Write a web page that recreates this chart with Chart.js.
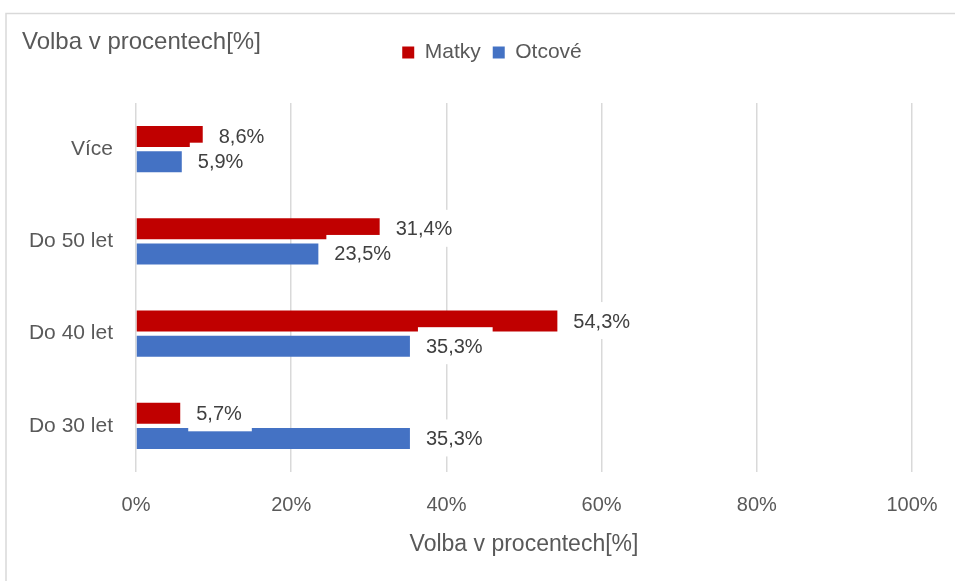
<!DOCTYPE html>
<html>
<head>
<meta charset="utf-8">
<script src="https://cdn.jsdelivr.net/npm/chart.js@4.4.1/dist/chart.umd.min.js"></script>
<style>
  html, body { margin: 0; padding: 0; background: #ffffff; }
  #wrap { position: relative; width: 955px; height: 581px; }
</style>
</head>
<body>
<div id="wrap"><canvas id="c" width="955" height="581"></canvas></div>
<script>
const categories = ['Více', 'Do 50 let', 'Do 40 let', 'Do 30 let'];
const matky = [8.6, 31.4, 54.3, 5.7];
const otcove = [5.9, 23.5, 35.3, 35.3];
const seriesNames = ['Matky', 'Otcové'];
const xTicks = [0, 20, 40, 60, 80, 100];
const chartTitle = 'Volba v procentech[%]';
const axisTitle = 'Volba v procentech[%]';

const FONT = "'Liberation Sans', Arial, sans-serif";
const TXT = '#595959';

const fmt = v => v.toFixed(1).replace('.', ',') + '%';

const frameAndTitle = {
  id: 'frameAndTitle',
  beforeDraw(chart) {
    const ctx = chart.ctx;
    ctx.save();
    ctx.fillStyle = '#ffffff';
    ctx.fillRect(0, 0, chart.width, chart.height);
    ctx.strokeStyle = '#d9d9d9';
    ctx.lineWidth = 1.5;
    ctx.strokeRect(6, 13.5, chart.width + 10, chart.height + 10);
    ctx.restore();
  },
  afterDraw(chart) {
    const ctx = chart.ctx;
    ctx.save();
    ctx.font = '24px ' + FONT;
    ctx.fillStyle = TXT;
    ctx.textAlign = 'left';
    ctx.textBaseline = 'middle';
    ctx.fillText(chartTitle, 22, 42);
    ctx.restore();
  }
};

const legendTweak = {
  id: 'legendTweak',
  beforeUpdate(chart) {
    const lg = chart.legend;
    if (lg && !lg._spaced) {
      const orig = lg.fit;
      lg.fit = function () { orig.call(this); this.height += 30; };
      lg._spaced = true;
    }
  },
  afterLayout(chart) {
    const lg = chart.legend;
    if (lg) { lg.left += 26; lg.right += 26; }
  }
};

const barLabels = {
  id: 'barLabels',
  afterDatasetsDraw(chart) {
    const ctx = chart.ctx;
    ctx.save();
    ctx.font = '20px ' + FONT;
    ctx.textBaseline = 'middle';
    ctx.textAlign = 'left';
    const items = [];
    chart.data.datasets.forEach((ds, di) => {
      const meta = chart.getDatasetMeta(di);
      meta.data.forEach((bar, i) => {
        const txt = fmt(ds.data[i]);
        items.push({ txt, x: bar.x, y: bar.y, w: ctx.measureText(txt).width });
      });
    });
    ctx.fillStyle = '#ffffff';
    items.forEach(it => ctx.fillRect(it.x + 8, it.y - 19, it.w + 18, 37));
    ctx.fillStyle = '#404040';
    items.forEach(it => ctx.fillText(it.txt, it.x + 16, it.y + 1));
    ctx.restore();
  }
};

new Chart(document.getElementById('c'), {
  type: 'bar',
  data: {
    labels: categories,
    datasets: [
      { label: seriesNames[0], data: matky, backgroundColor: '#C00000', borderWidth: 0,
        categoryPercentage: 0.545, barPercentage: 0.83 },
      { label: seriesNames[1], data: otcove, backgroundColor: '#4472C4', borderWidth: 0,
        categoryPercentage: 0.545, barPercentage: 0.83 }
    ]
  },
  options: {
    indexAxis: 'y',
    responsive: false,
    animation: false,
    devicePixelRatio: 1,
    layout: { padding: { left: 20, right: 43, top: 30, bottom: 19 } },
    plugins: {
      legend: {
        position: 'top',
        align: 'center',
        labels: {
          boxWidth: 12, boxHeight: 12, padding: 12,
          color: TXT, font: { family: FONT, size: 21 }
        }
      },
      title: { display: false },
      tooltip: { enabled: false }
    },
    scales: {
      x: {
        min: 0, max: 100,
        afterBuildTicks(scale) { scale.ticks = xTicks.map(v => ({ value: v })); },
        afterFit(scale) { scale.height = 90; scale.paddingLeft = 0; scale.paddingRight = 0; },
        ticks: { callback: v => v + '%', color: TXT, font: { family: FONT, size: 20 }, padding: 21 },
        grid: { color: '#d9d9d9', lineWidth: 1.5, drawTicks: false },
        border: { display: false },
        title: { display: true, text: axisTitle, color: TXT, font: { family: FONT, size: 23 }, padding: { top: 4, bottom: 4 } }
      },
      y: {
        afterFit(scale) { scale.width = 136 - 20; },
        ticks: { color: TXT, font: { family: FONT, size: 21 }, padding: 23 },
        grid: { display: false, drawTicks: false },
        border: { display: false }
      }
    }
  },
  plugins: [frameAndTitle, legendTweak, barLabels]
});
</script>
</body>
</html>
